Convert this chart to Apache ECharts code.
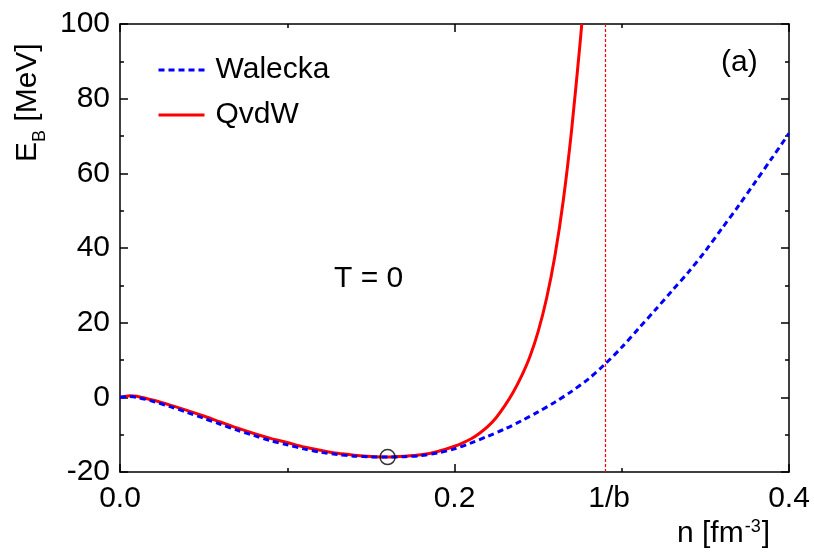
<!DOCTYPE html>
<html>
<head>
<meta charset="utf-8">
<script src="https://cdn.jsdelivr.net/npm/echarts@6/dist/echarts.min.js"></script>
<style>
  html, body { margin: 0; padding: 0; background: #fff; }
  #main { width: 814px; height: 557px; }
</style>
</head>
<body>
<div id="main"></div>
<script>
// Walecka (dashed blue)
var walN = [0, 0.005, 0.01, 0.02, 0.03, 0.04, 0.05, 0.06, 0.07, 0.08, 0.09, 0.10, 0.11, 0.12, 0.13, 0.14,
  0.15, 0.16, 0.17, 0.18, 0.19, 0.20, 0.21, 0.22, 0.23, 0.24, 0.25, 0.26, 0.27, 0.28, 0.29, 0.30,
  0.31, 0.32, 0.33, 0.34, 0.35, 0.36, 0.37, 0.38, 0.39, 0.40];
var walE = [0, 0.2, 0.0, -1.1, -2.5, -4.0, -5.6, -7.2, -8.8, -10.2, -11.6, -12.7, -13.8, -14.7, -15.3, -15.75,
  -15.95, -16.0, -15.9, -15.6, -14.9, -13.8, -12.2, -10.4, -8.5, -6.3, -3.9, -1.3, 1.6, 4.9, 8.9, 13.4,
  18.4, 23.4, 28.5, 33.6, 39.2, 45.3, 51.4, 57.8, 64.2, 70.7];

// QvdW (solid red)
var qvdwN = [0, 0.006, 0.01, 0.02, 0.03, 0.04, 0.05, 0.06, 0.07, 0.08, 0.09, 0.10, 0.11, 0.12, 0.13, 0.14,
  0.15, 0.16, 0.17, 0.18, 0.19, 0.20, 0.205, 0.21, 0.215, 0.22, 0.225, 0.23, 0.235, 0.24, 0.245, 0.25,
  0.255, 0.26, 0.265, 0.27, 0.275, 0.2761];
var qvdwE = [0, 0.45, 0.3, -0.8, -2.1, -3.5, -5.0, -6.6, -8.2, -9.7, -11.0, -12.1, -13.3, -14.2, -15.0, -15.5,
  -15.85, -16.0, -15.8, -15.4, -14.5, -13.1, -12.2, -11.1, -9.6, -7.8, -5.4, -2.3, 1.3, 5.6, 10.8, 17.6,
  26.4, 37.8, 52.6, 71.5, 94.5, 100];

var satPoint = [0.16, -16];   // saturation point (circle)
var invB = 0.2925;            // 1/b
var xTicks = [0, 0.2, invB, 0.4];
var seriesNames = ['Walecka', 'QvdW'];

var FONT = 'Liberation Sans, Arial, sans-serif';
var chart = echarts.init(document.getElementById('main'));

function zip(a, b) {
  return a.map(function (v, i) { return [v, b[i]]; });
}

var axisLine = { show: true, onZero: false, lineStyle: { color: '#000', width: 1.5 } };
var tick = { show: true, inside: true, length: 8, lineStyle: { color: '#000', width: 1.5 } };
var minor = { show: true, splitNumber: 2, length: 4, lineStyle: { color: '#000', width: 1.5 } };

var option = {
  animation: false,
  grid: { left: 120, right: 25, top: 24, bottom: 85 },
  legend: {
    data: seriesNames,
    orient: 'vertical',
    left: 152,
    top: 50,
    itemWidth: 46,
    itemHeight: 14,
    itemGap: 15,
    itemStyle: { opacity: 0 },
    lineStyle: { width: 3 },
    textStyle: { fontFamily: FONT, fontSize: 30, color: '#000', padding: [0, 0, 0, 6] }
  },
  xAxis: [{
    type: 'value', min: 0, max: 0.4, interval: 0.2,
    axisLine: axisLine, axisTick: tick, minorTick: minor,
    splitLine: { show: false },
    axisLabel: {
      customValues: xTicks,
      margin: 12, fontFamily: FONT, fontSize: 30, color: '#000',
      formatter: function (v) { return Math.abs(v - invB) < 1e-6 ? '1/b' : v.toFixed(1); }
    }
  }, {
    type: 'value', position: 'top', min: 0, max: 0.4, interval: 0.2,
    axisLine: axisLine, axisTick: tick, minorTick: minor,
    splitLine: { show: false },
    axisLabel: { show: false }
  }],
  yAxis: [{
    type: 'value', min: -20, max: 100, interval: 20,
    axisLine: axisLine, axisTick: tick, minorTick: minor,
    splitLine: { show: false },
    axisLabel: { margin: 10, fontFamily: FONT, fontSize: 30, color: '#000' }
  }, {
    type: 'value', position: 'right', min: -20, max: 100, interval: 20,
    axisLine: axisLine, axisTick: tick, minorTick: minor,
    splitLine: { show: false },
    axisLabel: { show: false }
  }],
  series: [{
    name: seriesNames[0],
    type: 'line',
    data: zip(walN, walE),
    smooth: 0.3,
    symbol: 'none',
    z: 3,
    color: '#0000ff',
    lineStyle: { color: '#0000ff', width: 3, type: [6, 4] }
  }, {
    name: seriesNames[1],
    type: 'line',
    data: zip(qvdwN, qvdwE),
    smooth: 0.3,
    symbol: 'none',
    z: 2,
    color: '#ff0000',
    lineStyle: { color: '#ff0000', width: 3 },
    markLine: {
      silent: true,
      symbol: 'none',
      label: { show: false },
      lineStyle: { color: '#ff0000', width: 1.2, type: [3, 2] },
      data: [{ xAxis: invB }]
    }
  }, {
    name: 'sat',
    type: 'scatter',
    data: [satPoint],
    symbol: 'circle',
    symbolSize: 15,
    z: 4,
    itemStyle: { color: 'rgba(0,0,0,0)', borderColor: '#000', borderWidth: 1.5 }
  }],
  graphic: [{
    type: 'text', left: 334, top: 264,
    style: { text: 'T = 0', fontFamily: FONT, fontSize: 30, fill: '#000' }
  }, {
    type: 'text', left: 721, top: 48,
    style: { text: '(a)', fontFamily: FONT, fontSize: 30, fill: '#000' }
  }, {
    type: 'text', x: 11, y: 162, rotation: Math.PI / 2,
    style: {
      text: '{m|E}{s|B}{m| [MeV]}',
      fill: '#000',
      rich: {
        m: { fontFamily: FONT, fontSize: 30, verticalAlign: 'bottom', lineHeight: 32 },
        s: { fontFamily: FONT, fontSize: 18, verticalAlign: 'bottom', lineHeight: 22, padding: [0, 0, -6, 0] }
      }
    }
  }, {
    type: 'text', left: 677, top: 518,
    style: {
      text: '{m|n [fm}{s|-3}{m|]}',
      fill: '#000',
      rich: {
        m: { fontFamily: FONT, fontSize: 30, lineHeight: 32 },
        s: { fontFamily: FONT, fontSize: 18, lineHeight: 32, padding: [0, 1, 14, 1] }
      }
    }
  }]
};

chart.setOption(option);
</script>
</body>
</html>
